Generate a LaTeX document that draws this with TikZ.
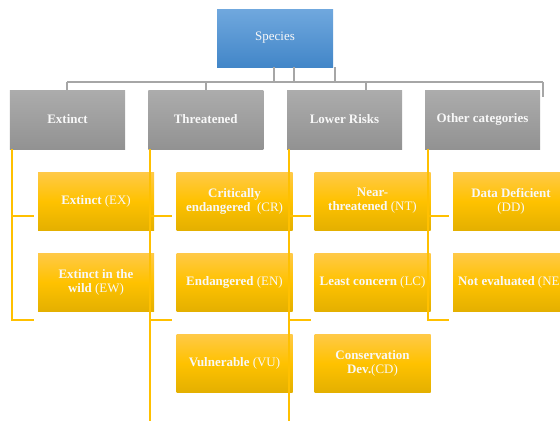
\documentclass[tikz,border=0pt]{standalone}
\usepackage{fontspec}
\setmainfont{Liberation Serif}
\definecolor{bTop}{RGB}{112,168,222}
\definecolor{bBot}{RGB}{66,134,200}
\definecolor{gTop}{RGB}{172,172,172}
\definecolor{gBot}{RGB}{146,146,146}
\definecolor{yTop}{RGB}{255,201,72}
\definecolor{yMid}{RGB}{255,194,0}
\definecolor{yBot}{RGB}{228,176,0}
\definecolor{lineGray}{RGB}{166,166,166}
\definecolor{lineYel}{RGB}{255,192,0}
\definecolor{txt}{RGB}{248,248,248}
\tikzset{
  box/.style={rectangle, draw=none, align=center, text=txt, inner sep=1bp,
    font=\fontsize{13}{14}\selectfont},
  topbox/.style={box, minimum width=116bp, minimum height=58bp,
    top color=bTop, bottom color=bBot},
  catbox/.style={box, font=\fontsize{13}{14}\selectfont\bfseries,
    minimum width=115bp, minimum height=59bp, top color=gTop, bottom color=gBot},
  leaf/.style={box, minimum width=116bp, minimum height=58bp,
    top color=yTop, bottom color=yBot, middle color=yMid},
  gl/.style={draw=lineGray, line width=2bp},
  yl/.style={draw=lineYel, line width=2.5bp},
}
\begin{document}
\begin{tikzpicture}[x=1bp,y=-1bp]
\useasboundingbox (0,0) rectangle (560,421);
\clip (0,0) rectangle (560,421);
% top node
\node[topbox] (sp) at (275,38) {Species};
% categories
\node[catbox] (ext) at (67.5,119.5) {Extinct};
\node[catbox] (thr) at (205.75,119.5) {Threatened};
\node[catbox] (low) at (344.5,119.5) {Lower Risks};
\node[catbox] (oth) at (482.5,119.5) {Other categories};
% leaves
\node[leaf] (ex) at (96,201) {\textbf{Extinct} (EX)};
\node[leaf] (ew) at (96,282) {\textbf{Extinct in the}\\\textbf{wild} (EW)};
\node[leaf] (cr) at (234.5,201) {\textbf{Critically}\\\textbf{endangered}\ \ (CR)};
\node[leaf] (en) at (234.5,282) {\textbf{Endangered} (EN)};
\node[leaf] (vu) at (234.5,363) {\textbf{Vulnerable} (VU)};
\node[leaf] (nt) at (372.5,201) {\textbf{Near-}\\\textbf{threatened} (NT)};
\node[leaf] (lc) at (372.5,282) {\textbf{Least concern} (LC)};
\node[leaf] (cd) at (372.5,363) {\textbf{Conservation}\\\textbf{Dev.}(CD)};
\node[leaf] (dd) at (511,201) {\textbf{Data Deficient}\\(DD)};
\node[leaf] (ne) at (511,282) {\textbf{Not evaluated} (NE)};
% gray connectors
\coordinate (busL) at (67,82);
\coordinate (busR) at (543,82);
\draw[gl] (busL) -- (busR);
\draw[gl] ([xshift=-1bp]sp.south) -- ++(0,15);
\draw[gl] ([xshift=19bp]sp.south) -- ++(0,15);
\draw[gl] ([xshift=60bp]sp.south) -- ++(0,15);
\draw[gl] (busL) -- (ext.north -| busL);
\draw[gl] (thr.north |- busL) -- (thr.north);
\draw[gl] ([xshift=21.5bp]low.north) -- ++(0,-8);
\draw[gl] (busR) -- ++(0,15);
% yellow connectors
\draw[yl] ([xshift=2bp]ext.south west) -- ++(0,171) -- ++(22,0);
\draw[yl] ([xshift=2bp]ext.south west) ++(0,67) -- ++(22,0);
\draw[yl] ([xshift=2bp]thr.south west) -- ++(0,272);
\draw[yl] ([xshift=2bp]thr.south west) ++(0,67) -- ++(22,0);
\draw[yl] ([xshift=2bp]thr.south west) ++(0,171) -- ++(22,0);
\draw[yl] ([xshift=2bp]low.south west) -- ++(0,272);
\draw[yl] ([xshift=2bp]low.south west) ++(0,67) -- ++(22,0);
\draw[yl] ([xshift=2bp]low.south west) ++(0,171) -- ++(22,0);
\draw[yl] ([xshift=3bp]oth.south west) -- ++(0,171) -- ++(21,0);
\draw[yl] ([xshift=3bp]oth.south west) ++(0,67) -- ++(21,0);
\end{tikzpicture}
\end{document}
